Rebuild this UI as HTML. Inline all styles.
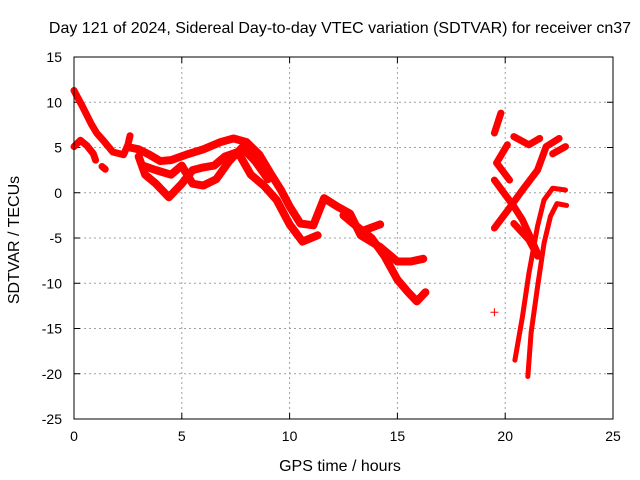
<!DOCTYPE html>
<html><head><meta charset="utf-8"><style>
body{margin:0;background:#fff}
svg{display:block;font-family:"Liberation Sans",sans-serif}
</style></head><body>
<svg id="chart" width="640" height="480">
<text x="340" y="33" font-size="16" text-anchor="middle">Day 121 of 2024, Sidereal Day-to-day VTEC variation (SDTVAR) for receiver cn37</text>
<text x="340" y="471" font-size="16" text-anchor="middle">GPS time / hours</text>
<text transform="translate(19,240) rotate(-90)" font-size="16" text-anchor="middle">SDTVAR / TECUs</text>
<g id="grid"></g><g id="ticks"></g><g id="series"></g>
<rect x="74" y="57" width="539" height="362" fill="none" stroke="#000" stroke-width="1"/>
</svg>
<script>
const xTicks=[0,5,10,15,20,25];
const yTicks=[15,10,5,0,-5,-10,-15,-20,-25];
const traceL1=[[0,11.3],[0.4,9.5],[0.8,7.6],[1.05,6.6],[1.35,5.8],[1.8,4.5],[2.3,4.2],[2.5,5.3],[2.6,6.3]];
const traceL2=[[0,5.1],[0.3,5.8],[0.6,5.2],[0.9,4.3],[1.0,3.6]];
const traceL3=[[1.3,2.9],[1.45,2.6]];
const traceM1=[[2.6,5],[3,4.8],[3.5,4.2],[4,3.5],[4.5,3.6],[5.2,4.2],[6,4.8],[6.8,5.6],[7.4,6],[8,5.6],[8.6,4.2],[9.1,2.2],[9.6,0.3],[10,-1.5],[10.5,-3.4],[11.1,-3.6],[11.6,-0.6],[12.2,-1.5],[12.8,-2.3],[13.3,-4.7],[14.2,-6.0],[15,-7.6],[15.6,-7.6],[16.2,-7.3]];
const traceM2=[[3,4],[3.3,2],[3.8,1],[4.4,-0.5],[5,1],[5.5,2.5],[6,2.8],[6.5,3],[7,4],[7.6,4.5],[8.2,2],[8.8,0.8],[9.4,-0.8],[10,-3.5],[10.6,-5.4],[11.3,-4.7]];
const traceM3=[[3.2,3],[3.8,2.5],[4.5,2],[5,3],[5.5,1],[6,0.8],[6.6,1.5],[7.2,3.5],[7.8,5],[8.4,3.5],[9,1.5]];
const traceM4=[[12.5,-2.5],[13,-3.5],[13.8,-5],[14.4,-7],[15,-9.6],[15.5,-11],[15.9,-12],[16.3,-11]];
const traceM5=[[13.4,-4.2],[14.2,-3.5]];
const traceR1=[[19.5,6.6],[19.8,8.8]];
const traceR2=[[20.4,6.2],[21.1,5.3],[21.6,6]];
const traceR3=[[20.1,5.3],[19.6,3.3],[20.2,1.4]];
const traceR4=[[19.5,1.4],[20.4,-1.5],[20.8,-3],[21.3,-5.6],[21.5,-6.7]];
const traceR5=[[19.5,-3.9],[20.1,-2],[20.8,0.3],[21.5,2.5],[21.9,5.1],[22.5,6]];
const traceR6=[[22.2,4.3],[22.8,5.1]];
const traceR7=[[20.4,-3.4],[21.1,-5.2],[21.5,-7]];
const traceR8=[[22.8,0.3],[22.2,0.5],[21.8,-0.8],[21.5,-3.7],[21.1,-8.9],[20.8,-13.7],[20.45,-18.5]];
const traceR9=[[22.85,-1.4],[22.4,-1.2],[22.1,-2.6],[21.8,-5.6],[21.5,-10.4],[21.2,-15.5],[21.05,-20.3]];
const outliers=[[19.5,-13.2]];
const traces=[traceL1,traceL2,traceL3,traceM1,traceM2,traceM3,traceM4,traceM5,traceR1,traceR2,traceR3,traceR4,traceR5,traceR6,traceR7,traceR8,traceR9];

const NS="http://www.w3.org/2000/svg";
const X0=74,X1=613,Y0=419,Y1=57;
const xs=t=>X0+(t-0)/25*(X1-X0);
const ys=v=>Y0-(v+25)/40*(Y0-Y1);
const grid=document.getElementById('grid'),ticks=document.getElementById('ticks'),ser=document.getElementById('series');
function mk(tag,attrs,parent){const e=document.createElementNS(NS,tag);for(const k in attrs)e.setAttribute(k,attrs[k]);parent.appendChild(e);return e;}
xTicks.forEach(t=>{
  const x=xs(t);
  if(t>0&&t<25){const g=mk('line',{x1:x,x2:x,y1:Y1,y2:Y0,stroke:'#a0a0a0','stroke-dasharray':'2,3'},grid);
  
  }
  mk('line',{x1:x,x2:x,y1:Y0,y2:Y0-6,stroke:'#000'},ticks);
  mk('line',{x1:x,x2:x,y1:Y1,y2:Y1+6,stroke:'#000'},ticks);
  const l=mk('text',{x:x,y:Y0+22,'font-size':14,'text-anchor':'middle'},ticks);
  l.textContent=t;
  
  
});
yTicks.forEach(v=>{
  const y=ys(v);
  if(v>-25&&v<15){const g=mk('line',{x1:X0,x2:X1,y1:y,y2:y,stroke:'#a0a0a0','stroke-dasharray':'2,3'},grid);
  
  }
  mk('line',{x1:X0,x2:X0+6,y1:y,y2:y,stroke:'#000'},ticks);
  mk('line',{x1:X1,x2:X1-6,y1:y,y2:y,stroke:'#000'},ticks);
  const l=mk('text',{x:X0-12,y:y+5,'font-size':14,'text-anchor':'end'},ticks);
  l.textContent=v;
  
  
});
traces.forEach((tr,i)=>{
  const p=mk('polyline',{points:tr.map(d=>xs(d[0])+','+ys(d[1])).join(' '),fill:'none',stroke:'#ff0000','stroke-width':(i>=15?5:(i>=3&&i<=7?8:7)),'stroke-linejoin':'round','stroke-linecap':'round'},ser);
  
  
});
outliers.forEach(d=>{
  const x=xs(d[0]),y=ys(d[1]);
  const p=mk('path',{d:`M${x-4},${y}H${x+4}M${x},${y-4}V${y+4}`,stroke:'#ff0000','stroke-width':1},ser);
  
  
});
</script>
</body></html>
